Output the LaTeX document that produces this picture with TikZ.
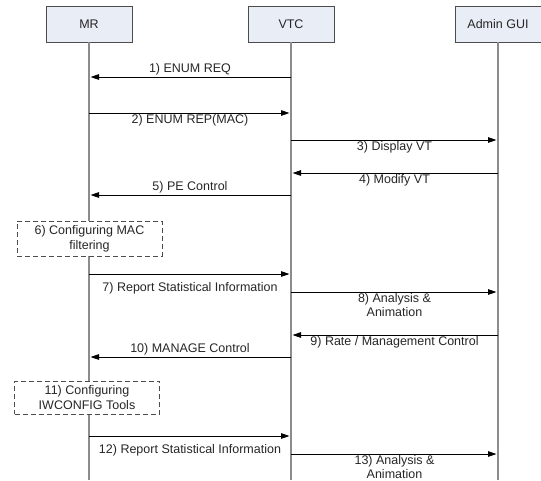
\documentclass[tikz,border=0pt]{standalone}
\usepackage{fontspec}
\setmainfont{Liberation Sans}
\usetikzlibrary{arrows.meta, positioning}
\definecolor{actorfill}{HTML}{E8EDF6}

\begin{document}
\begin{tikzpicture}[
  x=1pt, y=-1pt,
  font=\fontsize{12.5}{15}\selectfont,
  actor/.style ={draw=black!70, fill=actorfill, minimum width=86pt,
                 minimum height=36pt, inner sep=0pt, text=black!85},
  life/.style  ={draw=black!45, line width=1.2pt},
  msg/.style   ={-{Triangle[length=8.5pt, width=5.5pt]}, line width=0.8pt,
                 shorten >=1.5pt},
  up/.style    ={above, inner sep=2pt, text=black!85},
  dn/.style    ={below, inner sep=1pt, text=black!85, align=center,
                 font=\fontsize{12.5}{14}\selectfont},
  dnx/.style   ={below=6pt, inner sep=2pt, text=black!85},
  task/.style  ={draw=black!70, dash pattern=on 5pt off 3pt, line width=0.9pt,
                 fill=white, align=center, minimum width=145pt,
                 minimum height=35pt, inner sep=1pt, text=black!85},
]
\useasboundingbox (0,0) rectangle (541,480);

\node[actor] (mr)  at (89,24)  {MR};
\node[actor] (vtc) at (291,24) {VTC};
\node[actor] (gui) at (498,24) {Admin GUI};

% life lines
\foreach \a in {mr,vtc,gui} {
  \coordinate (\a-end) at (\a |- 0,480);
  \draw[life] (\a) -- (\a-end);
}

% messages
\foreach \n/\s/\t/\y/\pos/\txt in {
  1/vtc/mr/77/up/{1) ENUM REQ},
  2/mr/vtc/113/dn/{2) ENUM REP(MAC)},
  3/vtc/gui/140/dn/{3) Display VT},
  4/gui/vtc/173/dn/{4) Modify VT},
  5/vtc/mr/195/up/{5) PE Control},
  7/mr/vtc/274/dnx/{7) Report Statistical Information},
  8/vtc/gui/292/dn/{8) Analysis \&\\Animation},
  9/gui/vtc/335/dn/{9) Rate / Management Control},
  10/vtc/mr/357/up/{10) MANAGE Control},
  12/mr/vtc/436/dnx/{12) Report Statistical Information},
  13/vtc/gui/454/dn/{13) Analysis \&\\Animation}} {
  \path (\s |- 0,\y) coordinate (m\n-from) (\t |- 0,\y) coordinate (m\n-to);
  \draw[msg] (m\n-from) -- node[\pos] {\txt} (m\n-to);
}

% local actions on MR
\node[task] (cfg6) at (89.5,238.5) {6) Configuring MAC\\filtering};
\node[task, minimum height=33pt] (cfg11) at (87,397.5)
  {11) Configuring\\IWCONFIG Tools};
\end{tikzpicture}
\end{document}
